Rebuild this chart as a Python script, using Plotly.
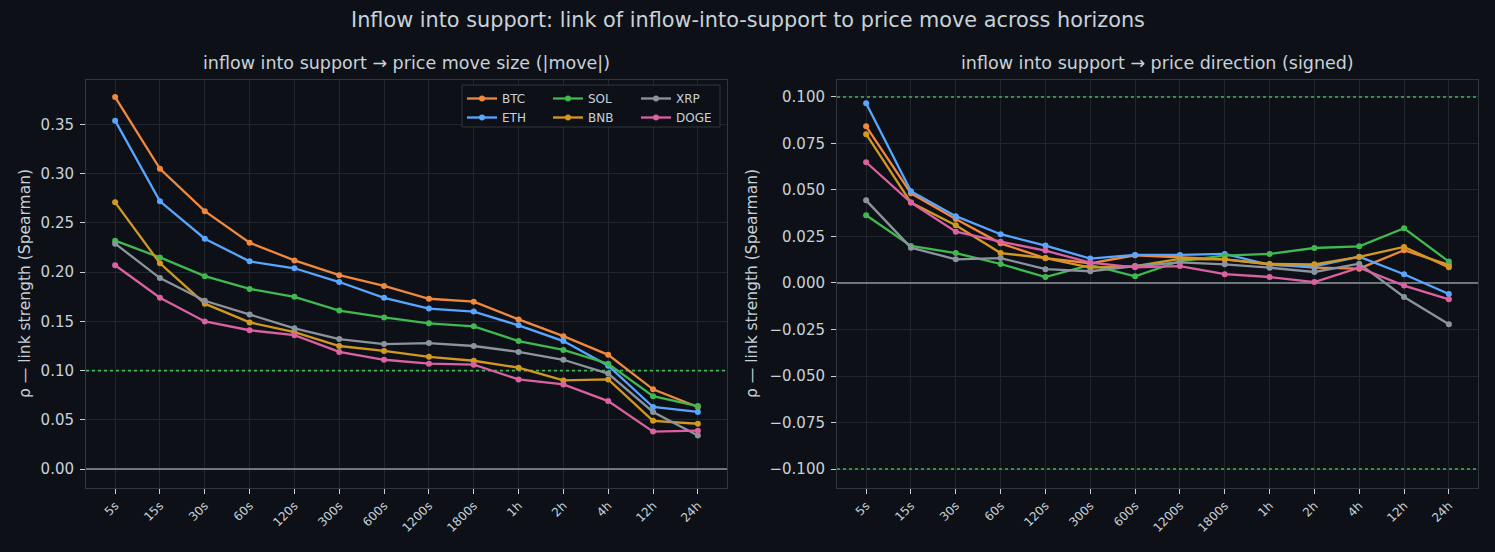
import plotly.graph_objects as go

horizons = ["5s", "15s", "30s", "60s", "120s", "300s", "600s", "1200s", "1800s", "1h", "2h", "4h", "12h", "24h"]
assets = ["BTC", "ETH", "SOL", "BNB", "XRP", "DOGE"]
colors = {"BTC": "#f0883e", "ETH": "#58a6ff", "SOL": "#3fb950", "BNB": "#d29922", "XRP": "#8b949e", "DOGE": "#db61a2"}

# |move| link strength
size_btc = [0.378, 0.305, 0.262, 0.230, 0.212, 0.197, 0.186, 0.173, 0.170, 0.152, 0.135, 0.116, 0.081, 0.063]
size_eth = [0.354, 0.272, 0.234, 0.211, 0.204, 0.190, 0.174, 0.163, 0.160, 0.146, 0.130, 0.105, 0.063, 0.058]
size_sol = [0.232, 0.215, 0.196, 0.183, 0.175, 0.161, 0.154, 0.148, 0.145, 0.130, 0.121, 0.107, 0.074, 0.064]
size_bnb = [0.271, 0.209, 0.168, 0.149, 0.139, 0.125, 0.120, 0.114, 0.110, 0.103, 0.090, 0.091, 0.049, 0.046]
size_xrp = [0.229, 0.194, 0.171, 0.157, 0.143, 0.132, 0.127, 0.128, 0.125, 0.119, 0.111, 0.097, 0.058, 0.034]
size_doge = [0.207, 0.174, 0.150, 0.141, 0.136, 0.119, 0.111, 0.107, 0.106, 0.091, 0.086, 0.069, 0.038, 0.039]

# signed direction link
dir_btc = [0.0842, 0.0482, 0.0344, 0.0213, 0.0133, 0.0106, 0.0149, 0.0136, 0.0127, 0.0100, 0.0082, 0.0077, 0.0176, 0.0097]
dir_eth = [0.0966, 0.0493, 0.0359, 0.0262, 0.0201, 0.0131, 0.0151, 0.0151, 0.0156, 0.0097, 0.0090, 0.0141, 0.0047, -0.0059]
dir_sol = [0.0364, 0.0199, 0.0161, 0.0102, 0.0032, 0.0097, 0.0036, 0.0118, 0.0147, 0.0156, 0.0188, 0.0197, 0.0294, 0.0115]
dir_bnb = [0.0800, 0.0432, 0.0310, 0.0161, 0.0134, 0.0082, 0.0091, 0.0129, 0.0127, 0.0102, 0.0100, 0.0140, 0.0194, 0.0084]
dir_xrp = [0.0444, 0.0190, 0.0127, 0.0134, 0.0074, 0.0063, 0.0090, 0.0111, 0.0100, 0.0082, 0.0059, 0.0104, -0.0075, -0.0222]
dir_doge = [0.0649, 0.0432, 0.0276, 0.0222, 0.0174, 0.0109, 0.0084, 0.0091, 0.0047, 0.0032, 0.0005, 0.0082, -0.0014, -0.0088]

size_vals = {"BTC": size_btc, "ETH": size_eth, "SOL": size_sol, "BNB": size_bnb, "XRP": size_xrp, "DOGE": size_doge}
dir_vals = {"BTC": dir_btc, "ETH": dir_eth, "SOL": dir_sol, "BNB": dir_bnb, "XRP": dir_xrp, "DOGE": dir_doge}
legend_group = {"BTC": "legend", "ETH": "legend", "SOL": "legend2", "BNB": "legend2", "XRP": "legend3", "DOGE": "legend3"}

W, H = 1495, 552
BG = "#0d1117"
TXT = "#c9d1d9"
GRID = "#21262d"
SPINE = "#30363d"
XR = [-0.65, 13.65]

def px_x(p):
    return p / W

def px_y(p):
    return 1 - p / H

fig = go.Figure()
for a in assets:
    fig.add_trace(go.Scatter(
        x=horizons, y=size_vals[a], name=a, mode="lines+markers",
        line=dict(color=colors[a], width=2.3), marker=dict(color=colors[a], size=6),
        xaxis="x", yaxis="y", legend=legend_group[a]))
for a in assets:
    fig.add_trace(go.Scatter(
        x=horizons, y=dir_vals[a], name=a, mode="lines+markers", showlegend=False,
        line=dict(color=colors[a], width=2.3), marker=dict(color=colors[a], size=6),
        xaxis="x2", yaxis="y2"))

xd1 = [px_x(86), px_x(727)]
xd2 = [px_x(837), px_x(1478)]
yd = [px_y(488), px_y(80)]

axis_common = dict(showline=True, linecolor=SPINE, linewidth=1, mirror=True,
                   ticks="outside", ticklen=5, tickcolor=TXT, tickwidth=1,
                   showgrid=True, gridcolor=GRID, gridwidth=1, zeroline=False,
                   automargin=False)

fig.update_layout(
    width=W, height=H, paper_bgcolor=BG, plot_bgcolor=BG,
    margin=dict(l=0, r=0, t=0, b=0),
    font=dict(family="DejaVu Sans", color=TXT),
    xaxis=dict(domain=xd1, anchor="y", type="category", range=XR,
               tickangle=-45, tickfont=dict(size=12, color=TXT), **axis_common),
    yaxis=dict(domain=yd, anchor="x", range=[-0.0193, 0.3953], tickvals=[0, 0.05, 0.1, 0.15, 0.2, 0.25, 0.3, 0.35],
               tickformat=".2f", tickfont=dict(size=15, color=TXT), ticklabelstandoff=3, **axis_common),
    xaxis2=dict(domain=xd2, anchor="y2", type="category", range=XR,
                tickangle=-45, tickfont=dict(size=12, color=TXT), **axis_common),
    yaxis2=dict(domain=yd, anchor="x2", range=[-0.1102, 0.1091],
                tickvals=[-0.1, -0.075, -0.05, -0.025, 0, 0.025, 0.05, 0.075, 0.1],
                tickformat=".3f", tickfont=dict(size=15, color=TXT), ticklabelstandoff=3, **axis_common),
    showlegend=True,
)

leg_common = dict(bgcolor="rgba(0,0,0,0)", borderwidth=0, font=dict(size=12, color=TXT),
                  xanchor="left", yanchor="top", orientation="v", tracegroupgap=0,
                  itemwidth=30)
fig.update_layout(
    legend=dict(x=px_x(462), y=px_y(84), **leg_common),
    legend2=dict(x=px_x(548), y=px_y(84), **leg_common),
    legend3=dict(x=px_x(636), y=px_y(84), **leg_common),
)

DOT = "#3fb950"
shapes = [
    dict(type="rect", xref="paper", yref="paper", x0=px_x(462), x1=px_x(720), y0=px_y(127), y1=px_y(85),
         fillcolor=BG, line=dict(color=SPINE, width=1), layer="above"),
    dict(type="line", xref="x", yref="y", x0=XR[0], x1=XR[1], y0=0, y1=0,
         line=dict(color="#8b949e", width=1.6), layer="between"),
    dict(type="line", xref="x", yref="y", x0=XR[0], x1=XR[1], y0=0.1, y1=0.1,
         line=dict(color=DOT, width=1.6, dash="dot"), layer="between"),
    dict(type="line", xref="x2", yref="y2", x0=XR[0], x1=XR[1], y0=0, y1=0,
         line=dict(color="#8b949e", width=1.6), layer="between"),
    dict(type="line", xref="x2", yref="y2", x0=XR[0], x1=XR[1], y0=0.1, y1=0.1,
         line=dict(color=DOT, width=1.6, dash="dot"), layer="between"),
    dict(type="line", xref="x2", yref="y2", x0=XR[0], x1=XR[1], y0=-0.1, y1=-0.1,
         line=dict(color=DOT, width=1.6, dash="dot"), layer="between"),
]
fig.update_layout(shapes=shapes)

annotations = [
    dict(text="Inflow into support: link of inflow-into-support to price move across horizons",
         x=0.5, y=px_y(20), xref="paper", yref="paper", showarrow=False,
         font=dict(size=20.8, color=TXT), xanchor="center", yanchor="middle"),
    dict(text="inflow into support → price move size (|move|)",
         x=(xd1[0] + xd1[1]) / 2, y=px_y(63), xref="paper", yref="paper", showarrow=False,
         font=dict(size=17.5, color=TXT), xanchor="center", yanchor="middle"),
    dict(text="inflow into support → price direction (signed)",
         x=(xd2[0] + xd2[1]) / 2, y=px_y(63), xref="paper", yref="paper", showarrow=False,
         font=dict(size=17.5, color=TXT), xanchor="center", yanchor="middle"),
    dict(text="ρ — link strength (Spearman)", textangle=-90,
         x=px_x(25), y=px_y(284), xref="paper", yref="paper", showarrow=False,
         font=dict(size=15.5, color=TXT), xanchor="center", yanchor="middle"),
    dict(text="ρ — link strength (Spearman)", textangle=-90,
         x=px_x(752), y=px_y(284), xref="paper", yref="paper", showarrow=False,
         font=dict(size=15.5, color=TXT), xanchor="center", yanchor="middle"),
]
fig.update_layout(annotations=annotations)

fig.write_html("out.html")
